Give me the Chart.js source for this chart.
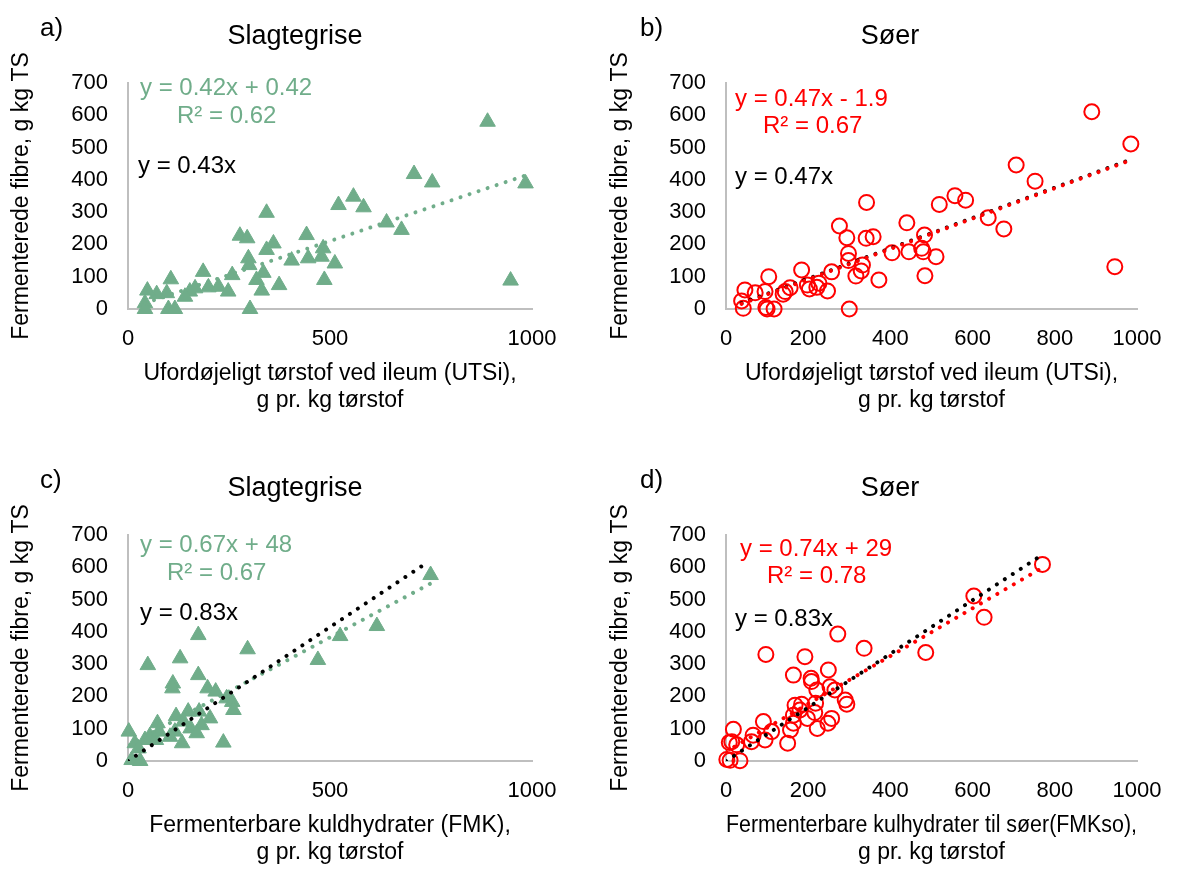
<!DOCTYPE html>
<html>
<head>
<meta charset="utf-8">
<script src="https://cdn.jsdelivr.net/npm/chart.js@4.4.1/dist/chart.umd.min.js"></script>
<style>
  body { margin: 0; background: #fff; width: 1187px; height: 883px; position: relative; overflow: hidden;
         font-family: "Liberation Sans", Arial, sans-serif; }
  canvas { position: absolute; }
  .lbl { position: absolute; white-space: nowrap; line-height: 1; }
  .c { transform: translateX(-50%); }
  .green { color: #70AD8A; }
  .red { color: #FF0000; }
</style>
</head>
<body>
<canvas id="chartA" width="593" height="441" style="left:0;top:0"></canvas>
<canvas id="chartB" width="594" height="441" style="left:593px;top:0"></canvas>
<canvas id="chartC" width="593" height="431" style="left:0;top:452px"></canvas>
<canvas id="chartD" width="594" height="431" style="left:593px;top:452px"></canvas>

<!-- panel letters + titles -->
<div class="lbl" style="left:40px;top:14px;font-size:26px">a)</div>
<div class="lbl c" style="left:295px;top:22px;font-size:27px">Slagtegrise</div>
<div class="lbl" style="left:640px;top:14px;font-size:26px">b)</div>
<div class="lbl c" style="left:890px;top:22px;font-size:27px">Søer</div>
<div class="lbl" style="left:40px;top:466px;font-size:26px">c)</div>
<div class="lbl c" style="left:295px;top:474px;font-size:27px">Slagtegrise</div>
<div class="lbl" style="left:640px;top:466px;font-size:26px">d)</div>
<div class="lbl c" style="left:890px;top:474px;font-size:27px">Søer</div>

<!-- trendline equations -->
<div class="lbl green" style="left:140px;top:75px;font-size:24px">y = 0.42x + 0.42</div>
<div class="lbl green" style="left:177px;top:103px;font-size:24px">R² = 0.62</div>
<div class="lbl" style="left:138px;top:153px;font-size:24px">y = 0.43x</div>

<div class="lbl red" style="left:735px;top:86px;font-size:24px">y = 0.47x - 1.9</div>
<div class="lbl red" style="left:763px;top:113px;font-size:24px">R² = 0.67</div>
<div class="lbl" style="left:735px;top:164px;font-size:24px">y = 0.47x</div>

<div class="lbl green" style="left:140px;top:532px;font-size:24px">y = 0.67x + 48</div>
<div class="lbl green" style="left:167px;top:560px;font-size:24px">R² = 0.67</div>
<div class="lbl" style="left:140px;top:600px;font-size:24px">y = 0.83x</div>

<div class="lbl red" style="left:740px;top:536px;font-size:24px">y = 0.74x + 29</div>
<div class="lbl red" style="left:767px;top:563px;font-size:24px">R² = 0.78</div>
<div class="lbl" style="left:735px;top:606px;font-size:24px">y = 0.83x</div>

<script>
// ========================
// DATA
// ========================
// a) Slagtegrise, UTSi vs fermenterede fibre
const aX = [890, 708, 753, 984, 947, 558, 521, 583, 640, 677, 343, 277, 295, 442, 343, 360, 298, 300, 405, 446, 483, 479, 512, 486, 374, 335, 318, 331, 302, 258, 186, 199, 224, 248, 153, 141, 106, 96, 71, 48, 42, 42, 100, 116, 166];
const aY = [580, 418, 392, 389, 88, 348, 322, 315, 268, 245, 298, 227, 219, 229, 183, 203, 157, 136, 150, 157, 188, 162, 141, 90, 74, 112, 90, 57, 0, 105, 115, 67, 69, 54, 54, 38, 92, 49, 46, 57, 18, 0, 0, 0, 64];

// b) Søer, UTSi vs fermenterede fibre
const bX = [890, 985, 706, 752, 946, 557, 583, 519, 638, 676, 342, 276, 294, 440, 341, 358, 483, 476, 480, 445, 511, 404, 298, 298, 257, 332, 329, 316, 372, 484, 300, 184, 104, 198, 203, 226, 221, 247, 156, 144, 139, 95, 71, 46, 38, 42, 97, 117, 100];
const bY = [611, 511, 446, 396, 131, 351, 337, 324, 283, 248, 330, 257, 221, 267, 219, 224, 229, 188, 177, 177, 162, 174, 172, 150, 115, 136, 118, 102, 90, 103, 0, 121, 100, 74, 62, 80, 67, 56, 66, 54, 46, 54, 50, 59, 25, 2, 5, 0, 0];

// c) Slagtegrise, FMK vs fermenterede fibre
const cX = [749, 616, 525, 470, 296, 174, 129, 49, 174, 111, 110, 197, 217, 244, 258, 261, 203, 182, 149, 119, 176, 155, 170, 116, 134, 236, 73, 54, 42, 69, 2, 17, 26, 9, 30, 77, 104, 137];
const cY = [576, 418, 387, 313, 346, 390, 318, 297, 266, 240, 225, 225, 215, 194, 183, 158, 132, 111, 153, 139, 153, 101, 86, 91, 55, 57, 117, 77, 65, 65, 91, 55, 39, 3, 0, 91, 75, 122];

// d) Søer, FMKso vs fermenterede fibre
const dX = [770, 603, 628, 486, 272, 336, 97, 192, 249, 164, 207, 208, 221, 253, 265, 290, 294, 168, 184, 180, 218, 216, 198, 257, 248, 222, 164, 157, 150, 91, 111, 95, 66, 62, 18, 14, 26, 8, 2, 10, 34, 164];
const dY = [609, 511, 445, 336, 393, 349, 330, 323, 282, 266, 256, 246, 220, 230, 220, 189, 176, 173, 176, 158, 179, 150, 132, 132, 117, 101, 117, 96, 55, 122, 91, 65, 80, 60, 98, 60, 50, 57, 5, 2, 1, 142];

// trendlines: [slope, intercept] and x-range
const aFit = [0.42, 0.42], aFitRange = [42, 984];
const bFit = [0.47, -1.9], bFitRange = [38, 985];
const bRef = [0.47, 0],   bRefRange = [38, 985];
const cFit = [0.67, 48],  cFitRange = [0, 749];
const cRef = [0.83, 0],   cRefRange = [0, 745];
const dFit = [0.74, 29],  dFitRange = [0, 766];
const dRef = [0.83, 0],   dRefRange = [0, 762];

// tick labels
const yTicks = [0, 100, 200, 300, 400, 500, 600, 700];
const xTicksPigs = [0, 500, 1000];
const xTicksSows = [0, 200, 400, 600, 800, 1000];

const GREEN = "#70AD8A";
const RED = "#FF0000";
const AXIS = "#BFBFBF";
const FONT = "'Liberation Sans', Arial, sans-serif";

// ========================
// HELPERS
// ========================
function toPoints(xs, ys) {
  return xs.map((x, i) => ({ x: x, y: ys[i] }));
}

function fitLine(coef, range, color, order) {
  return {
    type: "line",
    data: range.map(x => ({ x: x, y: coef[0] * x + coef[1] })),
    borderColor: color,
    borderWidth: 4,
    borderDash: [0.01, 9.5],
    borderCapStyle: "round",
    pointRadius: 0,
    fill: false,
    order: order
  };
}

// ========================
// RENDER PANEL
// ========================
function renderPanel(canvasId, opt) {
  const canvas = document.getElementById(canvasId);
  const w = canvas.width, h = canvas.height;
  const isTri = opt.marker === "triangle";

  const scatter = {
    type: "scatter",
    data: toPoints(opt.xs, opt.ys),
    pointStyle: opt.marker,
    pointRadius: isTri ? 9 : 7.5,
    backgroundColor: isTri ? opt.color : "rgba(0,0,0,0)",
    borderColor: opt.color,
    borderWidth: isTri ? 1 : 2,
    clip: false,
    order: 10
  };

  new Chart(canvas.getContext("2d"), {
    type: "scatter",
    data: { datasets: [scatter].concat(opt.lines) },
    options: {
      responsive: false,
      maintainAspectRatio: false,
      animation: false,
      devicePixelRatio: 1,
      layout: { padding: { left: 0, top: 83, right: w - opt.plotRight, bottom: h - 309 - 105 } },
      plugins: { legend: { display: false }, tooltip: { enabled: false } },
      scales: {
        x: {
          type: "linear",
          min: 0, max: 1000,
          grid: { display: false, drawTicks: false },
          border: { display: true, color: AXIS, width: 2 },
          afterBuildTicks: s => { s.ticks = opt.xTicks.map(v => ({ value: v })); },
          afterFit: s => { s.height = 105; },
          ticks: {
            color: "#000", padding: 17, maxRotation: 0,
            font: { family: FONT, size: 22 },
            callback: v => String(v)
          },
          title: {
            display: true, text: opt.xTitle, color: "#000",
            padding: { top: 0, bottom: 0 },
            font: { family: FONT, size: 23, lineHeight: 1.17 }
          }
        },
        y: {
          type: "linear",
          min: 0, max: 700,
          grid: { display: false, drawTicks: false },
          border: { display: true, color: AXIS, width: 2 },
          afterBuildTicks: s => { s.ticks = yTicks.map(v => ({ value: v })); },
          afterFit: s => { s.width = opt.axisWidth; },
          ticks: { color: "#000", padding: 20, font: { family: FONT, size: 22 }, callback: v => String(v) },
          title: {
            display: true, text: "Fermenterede fibre, g kg TS", color: "#000",
            padding: { top: opt.yTitlePad, bottom: 0 },
            font: { family: FONT, size: 23, lineHeight: 1.2 }
          }
        }
      }
    }
  });
}

// ========================
// INIT
// ========================
renderPanel("chartA", {
  xs: aX, ys: aY, marker: "triangle", color: GREEN,
  xTicks: xTicksPigs, axisWidth: 128, plotRight: 532, yTitlePad: 8,
  xTitle: ["Ufordøjeligt tørstof ved ileum (UTSi),", "g pr. kg tørstof"],
  lines: [fitLine(aFit, aFitRange, GREEN, 2)]
});

renderPanel("chartB", {
  xs: bX, ys: bY, marker: "circle", color: RED,
  xTicks: xTicksSows, axisWidth: 133, plotRight: 544, yTitlePad: 14,
  xTitle: ["Ufordøjeligt tørstof ved ileum (UTSi),", "g pr. kg tørstof"],
  lines: [fitLine(bRef, bRefRange, "#000", 3), fitLine(bFit, bFitRange, RED, 2)]
});

renderPanel("chartC", {
  xs: cX, ys: cY, marker: "triangle", color: GREEN,
  xTicks: xTicksPigs, axisWidth: 128, plotRight: 532, yTitlePad: 8,
  xTitle: ["Fermenterbare kuldhydrater (FMK),", "g pr. kg tørstof"],
  lines: [fitLine(cFit, cFitRange, GREEN, 3), fitLine(cRef, cRefRange, "#000", 2)]
});

renderPanel("chartD", {
  xs: dX, ys: dY, marker: "circle", color: RED,
  xTicks: xTicksSows, axisWidth: 133, plotRight: 544, yTitlePad: 14,
  xTitle: ["Fermenterbare kulhydrater til søer(FMKso),", "g pr. kg tørstof"],
  lines: [fitLine(dFit, dFitRange, RED, 3), fitLine(dRef, dRefRange, "#000", 2)]
});
</script>
</body>
</html>
